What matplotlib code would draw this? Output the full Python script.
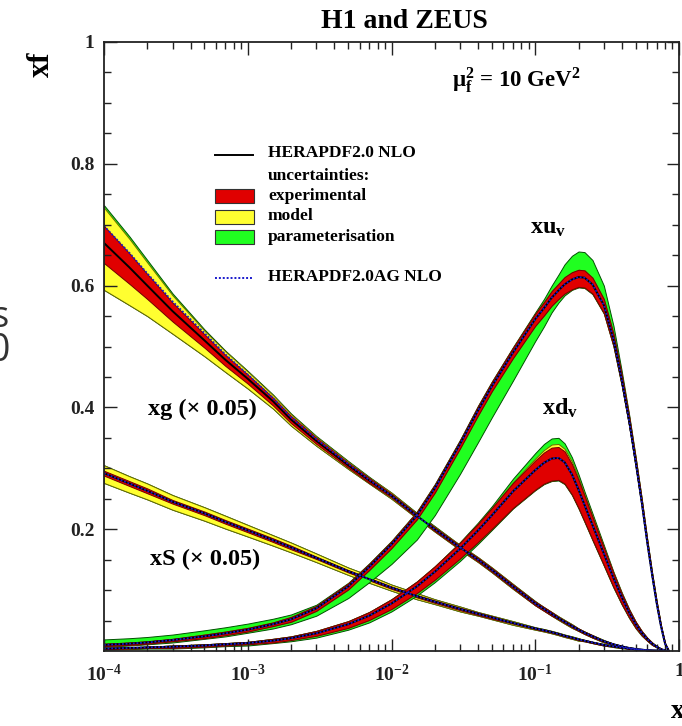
import matplotlib.pyplot as plt
from matplotlib.patches import Rectangle
from matplotlib.lines import Line2D
import numpy as np

plt.rcParams['font.family'] = ['Liberation Serif', 'DejaVu Serif']
plt.rcParams['font.weight'] = 'bold'
plt.rcParams['mathtext.fontset'] = 'custom'
plt.rcParams['mathtext.rm'] = 'Liberation Serif:bold'
plt.rcParams['mathtext.it'] = 'Liberation Serif:bold'
plt.rcParams['mathtext.bf'] = 'Liberation Serif:bold'

# x grid shared by all distributions
x = [1e-4, 1.5e-4, 2e-4, 3e-4, 5e-4, 7e-4, 1e-3, 1.5e-3, 2e-3, 3e-3,
     5e-3, 7e-3, 0.01, 0.015, 0.02, 0.03, 0.04, 0.05, 0.07, 0.1,
     0.115, 0.13, 0.145, 0.16, 0.18, 0.2, 0.22, 0.25, 0.3, 0.35,
     0.4, 0.45, 0.5, 0.55, 0.6, 0.65, 0.7, 0.75, 0.8, 0.85]

# xu_v : central value, band offsets below (lo) and above (hi)
xuv = [0.010, 0.012, 0.014, 0.018, 0.024, 0.029, 0.035, 0.044, 0.052, 0.070,
       0.106, 0.138, 0.175, 0.222, 0.267, 0.340, 0.395, 0.435, 0.490, 0.545,
       0.563, 0.580, 0.592, 0.602, 0.610, 0.614, 0.613, 0.602, 0.568, 0.512,
       0.445, 0.378, 0.310, 0.245, 0.180, 0.125, 0.078, 0.040, 0.012, 0.0]
xuv_exp_lo = [0.002, 0.002, 0.002, 0.002, 0.003, 0.003, 0.003, 0.003, 0.004, 0.004,
              0.005, 0.005, 0.006, 0.006, 0.007, 0.007, 0.008, 0.008, 0.009, 0.011,
              0.012, 0.013, 0.014, 0.015, 0.016, 0.016, 0.016, 0.015, 0.013, 0.011,
              0.009, 0.008, 0.007, 0.006, 0.005, 0.004, 0.003, 0.002, 0.001, 0.0]
xuv_exp_hi = [0.002, 0.002, 0.002, 0.002, 0.003, 0.003, 0.003, 0.003, 0.004, 0.004,
              0.005, 0.005, 0.005, 0.006, 0.006, 0.006, 0.007, 0.007, 0.008, 0.009,
              0.010, 0.011, 0.011, 0.012, 0.012, 0.012, 0.012, 0.011, 0.010, 0.009,
              0.008, 0.007, 0.006, 0.005, 0.004, 0.003, 0.003, 0.002, 0.001, 0.0]
xuv_par_lo = [0.003, 0.003, 0.003, 0.004, 0.004, 0.005, 0.005, 0.007, 0.008, 0.012,
              0.019, 0.025, 0.032, 0.039, 0.044, 0.049, 0.052, 0.051, 0.046, 0.036,
              0.030, 0.024, 0.020, 0.018, 0.017, 0.017, 0.017, 0.016, 0.014, 0.012,
              0.010, 0.009, 0.008, 0.007, 0.006, 0.005, 0.004, 0.003, 0.001, 0.0]
xuv_par_hi = [0.009, 0.009, 0.009, 0.009, 0.010, 0.010, 0.010, 0.009, 0.008, 0.006,
              0.006, 0.006, 0.006, 0.007, 0.007, 0.007, 0.008, 0.008, 0.009, 0.011,
              0.015, 0.020, 0.026, 0.033, 0.039, 0.042, 0.042, 0.040, 0.032, 0.022,
              0.014, 0.010, 0.008, 0.006, 0.005, 0.004, 0.003, 0.002, 0.001, 0.0]

# xd_v
xdv = [0.004, 0.005, 0.006, 0.007, 0.009, 0.011, 0.013, 0.017, 0.021, 0.029,
       0.044, 0.058, 0.078, 0.106, 0.130, 0.168, 0.198, 0.223, 0.262, 0.297,
       0.309, 0.316, 0.317, 0.310, 0.290, 0.265, 0.240, 0.207, 0.160, 0.120,
       0.088, 0.063, 0.044, 0.030, 0.020, 0.012, 0.007, 0.003, 0.001, 0.0]
xdv_exp_lo = [0.001, 0.001, 0.001, 0.002, 0.002, 0.002, 0.002, 0.003, 0.003, 0.004,
              0.006, 0.007, 0.009, 0.011, 0.013, 0.016, 0.019, 0.022, 0.027, 0.032,
              0.034, 0.036, 0.036, 0.035, 0.033, 0.030, 0.027, 0.024, 0.019, 0.015,
              0.011, 0.008, 0.006, 0.004, 0.003, 0.002, 0.001, 0.001, 0.0, 0.0]
xdv_exp_hi = [0.001, 0.001, 0.001, 0.002, 0.002, 0.002, 0.002, 0.003, 0.003, 0.004,
              0.005, 0.006, 0.007, 0.008, 0.009, 0.010, 0.011, 0.012, 0.014, 0.016,
              0.017, 0.018, 0.018, 0.018, 0.017, 0.016, 0.015, 0.013, 0.010, 0.008,
              0.006, 0.005, 0.004, 0.003, 0.002, 0.002, 0.001, 0.001, 0.0, 0.0]
xdv_mod_hi = xdv_exp_hi[:10] + [
              0.005, 0.006, 0.007, 0.008, 0.009, 0.010, 0.011, 0.012, 0.015, 0.019,
              0.021, 0.023, 0.023, 0.022, 0.021, 0.019, 0.017, 0.015, 0.011, 0.009,
              0.007, 0.005, 0.004, 0.003, 0.002, 0.002, 0.001, 0.001, 0.0, 0.0]
xdv_par_lo = [0.002, 0.002, 0.002, 0.003, 0.003, 0.003, 0.004, 0.004, 0.005, 0.007,
              0.009, 0.011, 0.013, 0.015, 0.017, 0.020, 0.022, 0.024, 0.028, 0.033,
              0.035, 0.037, 0.037, 0.036, 0.034, 0.031, 0.028, 0.025, 0.020, 0.016,
              0.012, 0.009, 0.007, 0.005, 0.003, 0.002, 0.001, 0.001, 0.0, 0.0]
xdv_par_hi = [0.001, 0.001, 0.001, 0.002, 0.002, 0.002, 0.002, 0.003, 0.003, 0.004,
              0.005, 0.006, 0.007, 0.008, 0.009, 0.011, 0.013, 0.015, 0.021, 0.028,
              0.031, 0.033, 0.033, 0.031, 0.028, 0.025, 0.022, 0.019, 0.014, 0.010,
              0.008, 0.006, 0.004, 0.003, 0.002, 0.002, 0.001, 0.001, 0.0, 0.0]

# xg scaled by 0.05
xg = [0.670, 0.630, 0.600, 0.558, 0.510, 0.478, 0.447, 0.410, 0.380, 0.345,
      0.305, 0.280, 0.255, 0.222, 0.200, 0.170, 0.150, 0.133, 0.106, 0.078,
      0.069, 0.061, 0.054, 0.048, 0.041, 0.035, 0.030, 0.024, 0.016, 0.011,
      0.0075, 0.005, 0.0033, 0.0021, 0.0013, 0.0008, 0.0005, 0.0003, 0.0001, 0.0]
xg_ag = [0.698, 0.654, 0.620, 0.574, 0.522, 0.487, 0.454, 0.415, 0.384, 0.348,
         0.307, 0.281] + xg[12:]
xg_exp_lo = [0.033, 0.027, 0.022, 0.017, 0.012, 0.010, 0.008, 0.007, 0.006, 0.005,
             0.004, 0.004, 0.003, 0.003, 0.003, 0.003, 0.003, 0.003, 0.003, 0.003,
             0.003, 0.003, 0.002, 0.002, 0.002, 0.002, 0.002, 0.002, 0.001, 0.001,
             0.001, 0.001, 0.0, 0.0, 0.0, 0.0, 0.0, 0.0, 0.0, 0.0]
xg_exp_hi = [0.028, 0.023, 0.019, 0.014, 0.010, 0.008, 0.007, 0.006, 0.006, 0.005] + xg_exp_lo[10:]
xg_mod_lo = [0.077, 0.062, 0.050, 0.037, 0.026, 0.020, 0.016, 0.012, 0.010, 0.008,
             0.006, 0.005, 0.005, 0.004, 0.004, 0.004, 0.004, 0.004, 0.004, 0.003,
             0.003, 0.003, 0.003, 0.003, 0.003, 0.002, 0.002, 0.002, 0.002, 0.001,
             0.001, 0.001, 0.001, 0.0, 0.0, 0.0, 0.0, 0.0, 0.0, 0.0]
xg_mod_hi = [0.058, 0.047, 0.038, 0.026, 0.016, 0.014, 0.012, 0.010, 0.009, 0.007] + xg_mod_lo[10:]
xg_par_hi = [0.062, 0.051, 0.042, 0.029, 0.018, 0.015, 0.013, 0.011, 0.010, 0.008,
             0.007, 0.006, 0.005, 0.005, 0.005, 0.004, 0.004, 0.004, 0.004, 0.004,
             0.003, 0.003, 0.003, 0.003, 0.003, 0.002, 0.002, 0.002, 0.002, 0.001,
             0.001, 0.001, 0.001, 0.0, 0.0, 0.0, 0.0, 0.0, 0.0, 0.0]

# xS scaled by 0.05
xs = [0.292, 0.275, 0.263, 0.245, 0.226, 0.212, 0.198, 0.182, 0.170, 0.153,
      0.131, 0.118, 0.104, 0.090, 0.081, 0.069, 0.061, 0.055, 0.046, 0.037,
      0.034, 0.031, 0.028, 0.025, 0.022, 0.019, 0.017, 0.014, 0.010, 0.0075,
      0.0055, 0.004, 0.0028, 0.002, 0.0013, 0.0008, 0.0005, 0.0003, 0.0001, 0.0]
xs_exp = [0.004, 0.004, 0.004, 0.003, 0.003, 0.003, 0.003, 0.003, 0.003, 0.002,
          0.002, 0.002, 0.002, 0.002, 0.002, 0.002, 0.002, 0.002, 0.001, 0.001,
          0.001, 0.001, 0.001, 0.001, 0.001, 0.001, 0.001, 0.001, 0.001, 0.0,
          0.0, 0.0, 0.0, 0.0, 0.0, 0.0, 0.0, 0.0, 0.0, 0.0]
xs_mod_lo = [0.016, 0.015, 0.014, 0.013, 0.012, 0.011, 0.010, 0.009, 0.008, 0.007,
             0.006, 0.006, 0.005, 0.005, 0.004, 0.004, 0.003, 0.003, 0.003, 0.002,
             0.002, 0.002, 0.002, 0.002, 0.002, 0.002, 0.001, 0.001, 0.001, 0.001,
             0.001, 0.0, 0.0, 0.0, 0.0, 0.0, 0.0, 0.0, 0.0, 0.0]
xs_mod_hi = [0.013, 0.012, 0.012, 0.011, 0.010, 0.010, 0.009, 0.008, 0.008, 0.007] + xs_mod_lo[10:]

xticks = [1e-4, 1e-3, 1e-2, 1e-1, 1]
xticklabels = [r'$\mathbf{10^{-4}}$', r'$\mathbf{10^{-3}}$', r'$\mathbf{10^{-2}}$',
               r'$\mathbf{10^{-1}}$', '1']
yticks = [0.2, 0.4, 0.6, 0.8, 1.0]
yticklabels = ['0.2', '0.4', '0.6', '0.8', '1']

RED, YEL, GRN = '#e00000', '#ffff30', '#20ff20'
RED_E, YEL_E, GRN_E = '#700000', '#6a6a00', '#005000'
AG_BLUE = '#1a1acc'

W, H = 682, 726
fig = plt.figure(figsize=(W / 100, H / 100), dpi=100)
ax = fig.add_axes([104 / W, 1 - 651 / H, (679 - 104) / W, (651 - 42) / H])


def band(c, lo, hi, face, edge):
    c = np.array(c)
    ax.fill_between(x, c - np.array(lo), c + np.array(hi),
                    facecolor=face, edgecolor=edge, linewidth=0.7)


# (central, exp lo/hi, model lo/hi, param lo/hi); a band with no extra
# width of its own reuses the inner one and stays hidden under it
pdfs = [
    (xg, xg_exp_lo, xg_exp_hi, xg_mod_lo, xg_mod_hi, xg_mod_lo, xg_par_hi),
    (xs, xs_exp, xs_exp, xs_mod_lo, xs_mod_hi, xs_mod_lo, xs_mod_hi),
    (xuv, xuv_exp_lo, xuv_exp_hi, xuv_exp_lo, xuv_exp_hi, xuv_par_lo, xuv_par_hi),
    (xdv, xdv_exp_lo, xdv_exp_hi, xdv_exp_lo, xdv_mod_hi, xdv_par_lo, xdv_par_hi),
]
for c, elo, ehi, mlo, mhi, plo, phi in pdfs:
    band(c, plo, phi, GRN, GRN_E)
    band(c, mlo, mhi, YEL, YEL_E)
    band(c, elo, ehi, RED, RED_E)

for c in (xg, xs, xuv, xdv):
    ax.plot(x, c, color='black', lw=1.4)
# HERAPDF2.0AG NLO central values (valence and sea coincide with NLO)
for c in (xg_ag, xs, xuv, xdv):
    ax.plot(x, c, color=AG_BLUE, lw=1.3, ls=(0, (1, 1)))

ax.set_xscale('log')
ax.set_xlim(1e-4, 1)
ax.set_ylim(0, 1)
ax.set_xticks(xticks)
ax.set_xticklabels(xticklabels)
ax.set_yticks(yticks)
ax.set_yticklabels(yticklabels)
ax.set_yticks(np.arange(0.05, 1.0, 0.05), minor=True)
ax.tick_params(which='both', direction='in', top=True, right=True,
               labelsize=14, width=1.0, colors='#222222')
ax.tick_params(which='major', length=9, pad=7)
ax.tick_params(which='minor', length=5)
ax.tick_params(axis='x', which='major', pad=9)
for s in ax.spines.values():
    s.set_linewidth(1.3)
    s.set_color('#222222')
for lab in ax.get_yticklabels() + ax.get_xticklabels():
    lab.set_fontweight('bold')


def fx(px):
    return px / W


def fy(py):
    return 1 - py / H


fig.text(fx(404), fy(21), 'H1 and ZEUS', ha='center', va='center',
         fontsize=20, fontweight='bold')
fig.text(fx(41), fy(64), 'xf', ha='center', va='center', rotation=90,
         fontsize=22, fontweight='bold')
fig.text(fx(452), fy(80), r'$\mathbf{\mu_f^2}$ = 10 GeV$\mathbf{^2}$',
         ha='left', va='center', fontsize=16.5, fontweight='bold')
fig.text(fx(671), fy(712), 'x', ha='left', va='center', fontsize=20,
         fontweight='bold')

# legend
tf = fig.transFigure
fig.add_artist(Line2D([fx(215), fx(253)], [fy(155), fy(155)], color='black',
                      lw=1.4, transform=tf))
fig.add_artist(Line2D([fx(215), fx(253)], [fy(278), fy(278)], color=AG_BLUE,
                      lw=1.4, ls=(0, (1, 1)), transform=tf))
for py, face in [(189, RED), (210, YEL), (230, GRN)]:
    fig.add_artist(Rectangle((fx(215), fy(py + 14)), fx(254) - fx(215),
                             fy(py) - fy(py + 14), facecolor=face,
                             edgecolor='#333333', lw=0.8, transform=tf))
legend_rows = [(153, 'HERAPDF2.0 NLO'), (176, 'uncertainties:'),
               (196, 'experimental'), (216, 'model'), (237, 'parameterisation'),
               (277, 'HERAPDF2.0AG NLO')]
for py, txt in legend_rows:
    fig.text(fx(268), fy(py), txt, ha='left', va='center', fontsize=12.5,
             fontweight='bold')

# curve labels
fig.text(fx(148), fy(409), 'xg (\u00d7 0.05)', ha='left', va='center',
         fontsize=17.5, fontweight='bold')
fig.text(fx(150), fy(559), 'xS (\u00d7 0.05)', ha='left', va='center',
         fontsize=17.5, fontweight='bold')
fig.text(fx(530), fy(228), r'xu$\mathbf{_v}$', ha='left', va='center',
         fontsize=17.5, fontweight='bold')
fig.text(fx(542), fy(408), r'xd$\mathbf{_v}$', ha='left', va='center',
         fontsize=17.5, fontweight='bold')

# cut-off glyphs at the left border
fig.text(fx(8), fy(318), 's', ha='right', va='center', fontsize=26,
         family='Open Sans', color='#333333', fontweight='normal')
fig.text(fx(10), fy(351), '0', ha='right', va='center', fontsize=27,
         family='Open Sans', color='#333333', fontweight='normal')

fig.savefig('out.png', dpi=100)
